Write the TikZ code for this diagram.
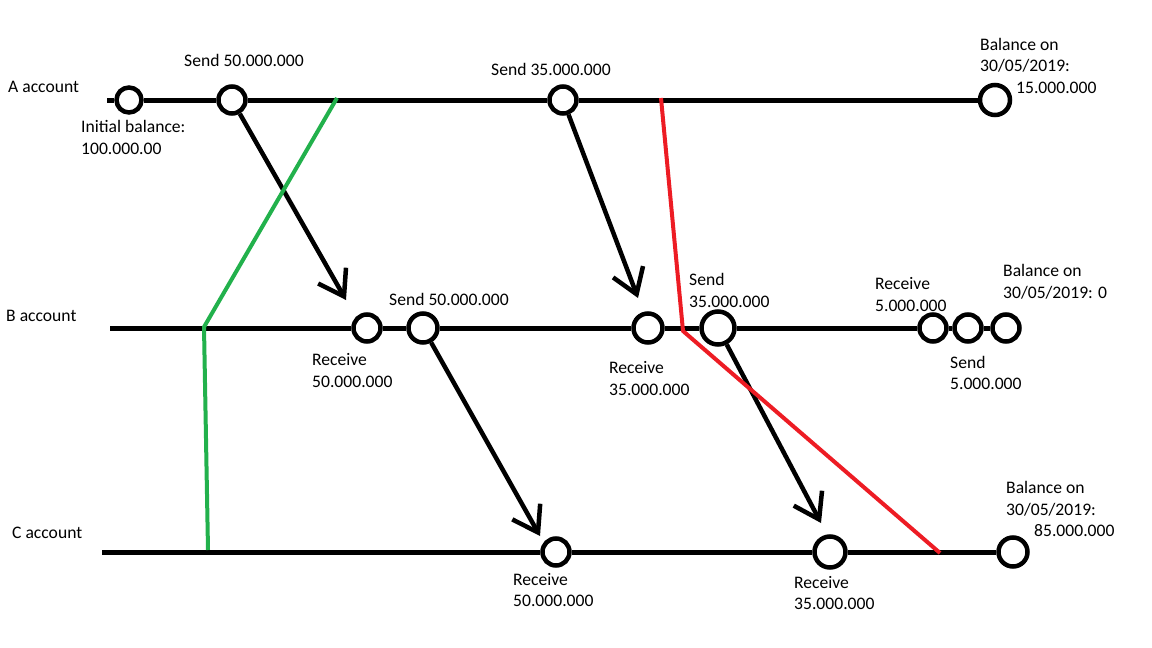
\documentclass[tikz,border=0pt]{standalone}
\usepackage{fontspec}
\setmainfont{Carlito}
\usetikzlibrary{arrows.meta}
\definecolor{paintgreen}{RGB}{34,177,76}
\definecolor{paintred}{RGB}{237,28,36}

\begin{document}
\begin{tikzpicture}[x=1pt, y=-1pt,
  ev/.style={circle, draw, line width=4.5pt, fill=white, inner sep=0pt, minimum size=#1},
  ev/.default=27pt,
  tl/.style={line width=5pt},
  msg/.style={line width=4.5pt, -{Straight Barb[length=24pt, width=32pt, line width=4.5pt]}},
  lbl/.style={anchor=west, align=left, inner sep=0pt, font=\fontsize{17.6}{21.5}\selectfont},
  cut/.style={line width=4pt, line join=round}]
\useasboundingbox (0,0) rectangle (1152,648);
% account lines
\coordinate (as) at (107,100);
\coordinate (bs) at (110,328);
\coordinate (cs) at (102,552);
\node[ev=25pt] (a0) at (129,100) {};
\node[ev] (a1) at (232,100) {};
\node[ev] (a2) at (563,100) {};
\node[ev=30pt] (a3) at (995,100) {};
\node[ev] (b1) at (367,328) {};
\node[ev=29pt] (b2) at (423,328) {};
\node[ev=29pt] (b3) at (648,328) {};
\node[ev=33pt] (b4) at (718,328) {};
\node[ev] (b5) at (933,328) {};
\node[ev] (b6) at (968,328) {};
\node[ev] (b7) at (1006,328) {};
\node[ev] (c1) at (556,552) {};
\node[ev=31pt] (c2) at (830,552) {};
\node[ev=29pt] (c3) at (1013,552) {};
\draw[tl] (as) -- (a0) -- (a1) -- (a2) -- (a3);
\draw[tl] (bs) -- (b1) -- (b2) -- (b3) -- (b4) -- (b5) -- (b6) -- (b7);
\draw[tl] (cs) -- (c1) -- (c2) -- (c3);
% transfers
\coordinate (t1) at (346,300);
\coordinate (t2) at (638,298);
\coordinate (t3) at (540,536);
\coordinate (t4) at (821,523);
\draw[msg] (a1) -- (t1);
\draw[msg] (a2) -- (t2);
\draw[msg] (b2) -- (t3);
\draw[msg] (b4) -- (t4);
% cuts
\coordinate (g1) at (337,98);
\coordinate (g2) at (204,327);
\coordinate (g3) at (208,550);
\coordinate (r1) at (661,98);
\coordinate (r2) at (683,331);
\coordinate (r3) at (940,553);
\draw[cut, paintgreen] (g1) -- (g2) -- (g3);
\draw[cut, paintred] (r1) -- (r2) -- (r3);
% labels
\node[lbl] (la) at (8,87) {A account};
\node[lbl] (lb) at (6,316) {B account};
\node[lbl] (lc) at (12,533) {C account};
\node[lbl] (a1s) at (184,60) {Send 50.000.000};
\node[lbl] (a0i) at (81,137.5) {Initial balance:\\100.000.00};
\node[lbl] (a2s) at (491,69) {Send 35.000.000};
\node[lbl] (a3b) at (980,65.5) {Balance on\\30/05/2019:\\\hspace*{36pt}15.000.000};
\node[lbl] (b1r) at (312,370.5) {Receive\\50.000.000};
\node[lbl] (b2s) at (389,299) {Send 50.000.000};
\node[lbl] (b3r) at (609,378.5) {Receive\\35.000.000};
\node[lbl] (b4s) at (689,290.5) {Send\\35.000.000};
\node[lbl] (b5r) at (875,294.5) {Receive\\5.000.000};
\node[lbl] (b6s) at (950,373) {Send\\5.000.000};
\node[lbl] (b7b) at (1003,282) {Balance on\\30/05/2019: 0};
\node[lbl] (c1r) at (513,590) {Receive\\50.000.000};
\node[lbl] (c2r) at (794,593) {Receive\\35.000.000};
\node[lbl] (c3b) at (1006,509) {Balance on\\30/05/2019:\\\hspace*{28pt}85.000.000};
\end{tikzpicture}
\end{document}
